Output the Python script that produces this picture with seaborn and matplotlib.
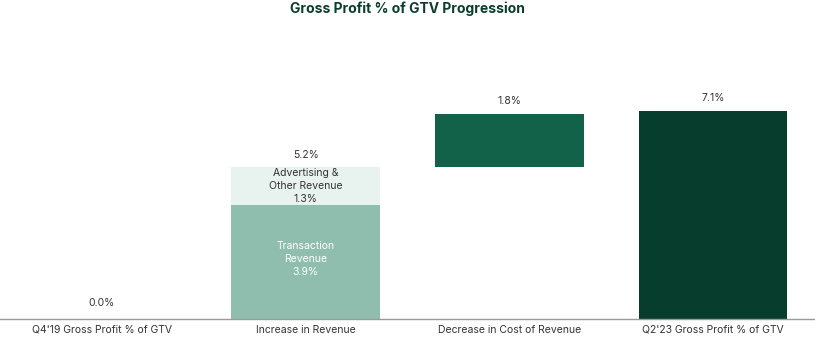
import matplotlib
matplotlib.use("Agg")
import matplotlib.pyplot as plt
import seaborn as sns

categories = ["Q4'19 Gross Profit % of GTV", "Increase in Revenue",
              "Decrease in Cost of Revenue", "Q2'23 Gross Profit % of GTV"]
start_value = 0.0
transaction_rev = 3.9
advertising_rev = 1.3
cost_decrease = 1.8
end_value = 7.1

sns.set_theme(style="white")
plt.rcParams["font.family"] = ["Inter", "DejaVu Sans"]

fig = plt.figure(figsize=(8.15, 3.39), dpi=100)
ax = fig.add_axes([0.0, 0.059, 1.0, 0.852])

W = 0.73
c_trans = "#8FBEAE"
c_adv = "#E8F2EF"
c_cost = "#12624A"
c_end = "#073D2C"

layers = [
    (categories[1], transaction_rev, 0.0, c_trans),
    (categories[1], advertising_rev, transaction_rev, c_adv),
    (categories[2], cost_decrease, transaction_rev + advertising_rev, c_cost),
    (categories[3], end_value, 0.0, c_end),
]
for cat, val, bot, col in layers:
    sns.barplot(x=[cat], y=[val], order=categories, color=col, width=W,
                bottom=bot, ax=ax, saturation=1, linewidth=0)

ax.set_xlim(-0.5, 3.5)
ax.set_ylim(0, 9.86)
ax.set_yticks([])
ax.set_ylabel("")
for s in ["top", "right", "left"]:
    ax.spines[s].set_visible(False)
ax.spines["bottom"].set_color("#9a9a9a")
ax.spines["bottom"].set_linewidth(1.0)
ax.tick_params(axis="x", length=0, pad=4, labelsize=7.5, labelcolor="#333333")

tc = "#333333"
fs = 7.5
ax.text(0, 0.55, f"{start_value:.1f}%", ha="center", va="center", fontsize=fs, color=tc)
total_rev = transaction_rev + advertising_rev
ax.text(1, total_rev + 0.4, f"{total_rev:.1f}%", ha="center", va="center", fontsize=fs, color=tc)
ax.text(1, transaction_rev + advertising_rev / 2, f"Advertising &\nOther Revenue\n{advertising_rev:.1f}%",
        ha="center", va="center", fontsize=fs, color=tc, linespacing=1.4)
ax.text(1, transaction_rev / 2 + 0.1, f"Transaction\nRevenue\n{transaction_rev:.1f}%",
        ha="center", va="center", fontsize=fs, color="white", linespacing=1.4)
ax.text(2, total_rev + cost_decrease + 0.45, f"{cost_decrease:.1f}%", ha="center", va="center",
        fontsize=fs, color=tc)
ax.text(3, end_value + 0.45, f"{end_value:.1f}%", ha="center", va="center", fontsize=fs, color=tc)

fig.suptitle("Gross Profit % of GTV Progression", y=0.995, fontsize=10, fontweight="bold",
             color="#0B3D2C")

fig.savefig("out.png", dpi=100)
